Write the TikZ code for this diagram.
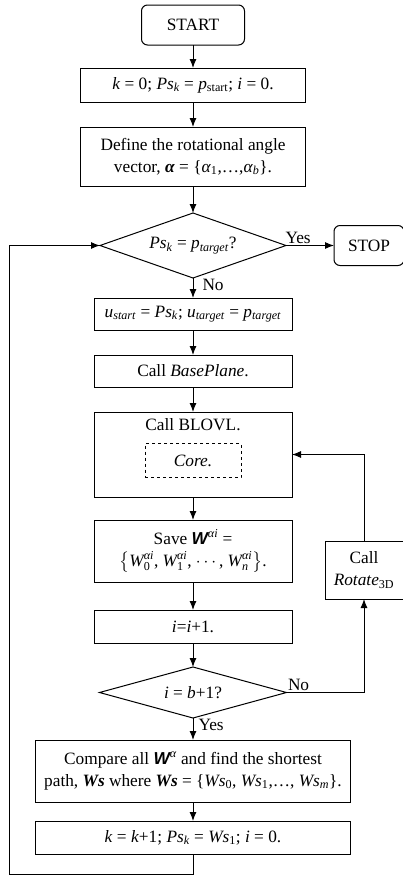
\documentclass[tikz,border=0pt]{standalone}
\usepackage{amsmath}
\usepackage{fontspec}
\setmainfont{Liberation Serif}
\newfontfamily\bisans{Liberation Sans}
\usetikzlibrary{arrows.meta}
\usetikzlibrary{shapes.geometric,positioning}
\newcommand{\Psk}{\textit{Ps}\textsubscript{\textit{k}}}
\newcommand{\ptgt}{\textit{p}\textsubscript{\textit{target}}}
\newcommand{\Wb}{{\bisans\bfseries\itshape W}}
\newcommand{\Wsb}{\textbf{\textit{Ws}}}
\newcommand{\Wai}[1]{$\textit{W}^{\textit{αi}}_{\text{#1}}$}

\begin{document}
\begin{tikzpicture}[x=1pt,y=1pt,
    every node/.style={font=\fontsize{17.3}{22}\selectfont},
    box/.style={draw, line width=1pt, outer sep=0pt, minimum width=198pt, align=center, inner sep=2pt},
    wide/.style={minimum width=225pt},
    term/.style={draw, line width=1pt, outer sep=0pt, rounded corners=6pt, minimum height=40pt, inner sep=2pt},
    decide/.style={draw, line width=1pt, outer sep=0pt, diamond, aspect=5, inner sep=0pt},
    core/.style={draw, dashed, line width=1pt, inner sep=2pt},
    lbl/.style={inner sep=1pt},
    arr/.style={-{Latex[length=9pt,width=7pt]}, line width=1pt}]
  \useasboundingbox (0,0) rectangle (403,-878);

  \node[term, minimum width=103pt] (start) at (193,-25) {START};
  \node[box, wide, minimum height=34pt, below=23pt of start] (init)
    {\textit{k} = 0; \Psk{} = \textit{p}\textsubscript{start}; \textit{i} = 0.};
  \node[box, wide, minimum height=59pt, below=25pt of init] (angle)
    {Define the rotational angle\\
     vector, \textbf{\textit{α}} = \{\textit{α}\textsubscript{1},…,\textit{α}\textsubscript{\textit{b}}\}.};
  \node[decide, minimum width=186pt, minimum height=65pt, below=27pt of angle] (check)
    {\Psk{} = \ptgt?};
  \node[term, minimum width=70pt, right=48pt of check] (stop) {STOP};
  \node[box, minimum height=32pt, below=20pt of check] (uset)
    {\textit{u}\textsubscript{\textit{start}} = \Psk; \textit{u}\textsubscript{\textit{target}} = \ptgt};
  \node[box, minimum height=32pt, below=25pt of uset] (base) {Call \textit{BasePlane}.};
  \node[box, minimum height=85pt, below=25pt of base] (blovl) {};
  \node[below=3pt of blovl.north] (blovltxt) {Call BLOVL.};
  \node[core, minimum width=96pt, minimum height=34pt] (core)
    at ([yshift=-6pt]blovl.center) {\textit{Core.}};
  \node[box, minimum height=62pt, below=23pt of blovl] (save)
    {Save \Wb$^{\textit{αi}}$ =\\
     $\bigl\{$\Wai{0}, \Wai{1}, $\cdots$, \Wai{\textit{n}}$\bigr\}$.};
  \node[box, minimum width=78pt, minimum height=58pt] (rot) at (364,-570)
    {Call\\\textit{Rotate}\textsubscript{3D}};
  \node[box, minimum height=33pt, below=28pt of save] (incr) {\textit{i}=\textit{i}+1.};
  \node[decide, minimum width=187pt, minimum height=51pt, below=24pt of incr] (last)
    {\textit{i} = \textit{b}+1?};
  \node[box, minimum width=315pt, minimum height=62pt, below=22pt of last] (cmp)
    {Compare all \Wb$^{\textit{α}}$ and find the shortest\\
     path, \Wsb{} where \Wsb{} = \{\textit{Ws}\textsubscript{0}, \textit{Ws}\textsubscript{1},…, \textit{Ws}\textsubscript{\textit{m}}\}.};
  \node[box, minimum width=315pt, minimum height=33pt, below=19pt of cmp] (next)
    {\textit{k} = \textit{k}+1; \Psk{} = \textit{Ws}\textsubscript{1}; \textit{i} = 0.};
  \coordinate (loop) at (9,-874);

  \draw[arr] (start) -- (init);
  \draw[arr] (init) -- (angle);
  \draw[arr] (angle) -- (check);
  \draw[arr] (check.east) node[lbl, above right, xshift=-2pt] {Yes} -- (stop);
  \draw[arr] (check.south) node[lbl, below right, xshift=8pt] {No} -- (uset);
  \draw[arr] (uset) -- (base);
  \draw[arr] (base) -- (blovl);
  \draw[arr] (blovl) -- (save);
  \draw[arr] (save) -- (incr);
  \draw[arr] (incr) -- (last);
  \draw[arr] (last.east) node[lbl, above right] {No} -| (rot);
  \draw[arr] (rot) |- (blovl);
  \draw[arr] (last.south) node[lbl, below right, xshift=4pt] {Yes} -- (cmp);
  \draw[arr] (cmp) -- (next);
  \draw[arr] (next.south) |- (loop) |- (check.west);
\end{tikzpicture}
\end{document}
